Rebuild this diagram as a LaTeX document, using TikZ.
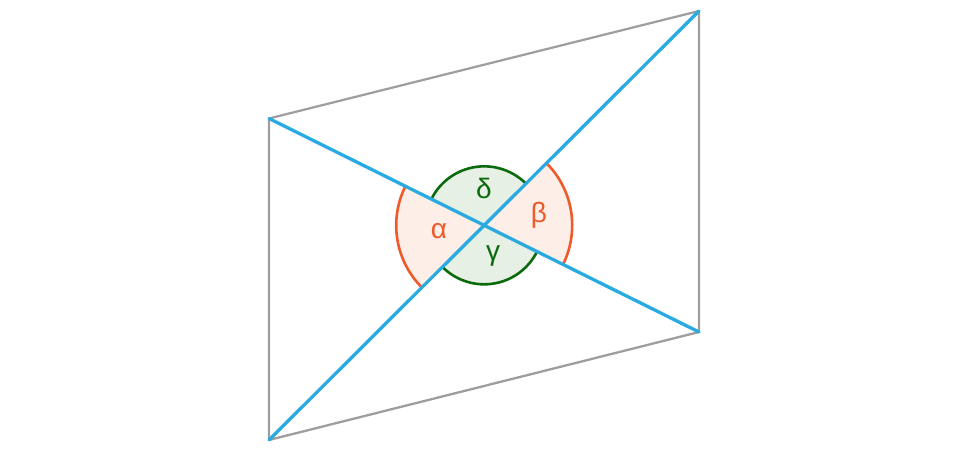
\documentclass[tikz,border=0pt]{standalone}
\usepackage{fontspec}
\setmainfont{Liberation Sans}
\definecolor{edgegray}{HTML}{9E9E9E}
\definecolor{diagblue}{HTML}{29ABE2}
\definecolor{angred}{HTML}{EE5A2A}
\definecolor{angredfill}{HTML}{FDEEE8}
\definecolor{anggreen}{HTML}{0B6A0B}
\definecolor{anggreenfill}{HTML}{E6F0E4}
\tikzset{
  edge/.style={draw=edgegray,line width=2.3pt,line join=round},
  diag/.style={draw=diagblue,line width=3.3pt,line cap=round},
  redarc/.style={draw=angred,line width=2.6pt},
  greenarc/.style={draw=anggreen,line width=2.6pt},
  lab/.style={font=\fontsize{28}{32}\selectfont,inner sep=0pt}
}
\begin{document}
\begin{tikzpicture}[x=1pt,y=1pt]
\useasboundingbox (0,0) rectangle (960,450);
\coordinate (A) at (269,331.5);
\coordinate (B) at (699,439);
\coordinate (C) at (699,118);
\coordinate (D) at (269,10);
\coordinate (O) at (484.2,224.67);
% sector fills
\fill[angredfill] (O) -- ++(153.6:88) arc[start angle=153.6,end angle=224.94,radius=88] -- cycle;
\fill[angredfill] (O) -- ++(-26.4:88) arc[start angle=-26.4,end angle=44.94,radius=88] -- cycle;
\fill[anggreenfill] (O) -- ++(44.94:59) arc[start angle=44.94,end angle=153.6,radius=59] -- cycle;
\fill[anggreenfill] (O) -- ++(224.94:59) arc[start angle=224.94,end angle=333.6,radius=59] -- cycle;
% arcs
\draw[redarc] (O) ++(153.6:88) arc[start angle=153.6,end angle=224.94,radius=88];
\draw[redarc] (O) ++(-26.4:88) arc[start angle=-26.4,end angle=44.94,radius=88];
\draw[greenarc] (O) ++(44.94:59) arc[start angle=44.94,end angle=153.6,radius=59];
\draw[greenarc] (O) ++(224.94:59) arc[start angle=224.94,end angle=333.6,radius=59];
% parallelogram
\draw[edge] (A) -- (B) -- (C) -- (D) -- cycle;
% diagonals
\draw[diag] (A) -- (C);
\draw[diag] (D) -- (B);
% labels
\node[lab,text=angred] (alpha) at (439,219) {α};
\node[lab,text=angred] (beta) at (539,235) {β};
\node[lab,text=anggreen] (delta) at (484,261.7) {δ};
\node[lab,text=anggreen] (gamma) at (493,194) {γ};
\end{tikzpicture}
\end{document}
